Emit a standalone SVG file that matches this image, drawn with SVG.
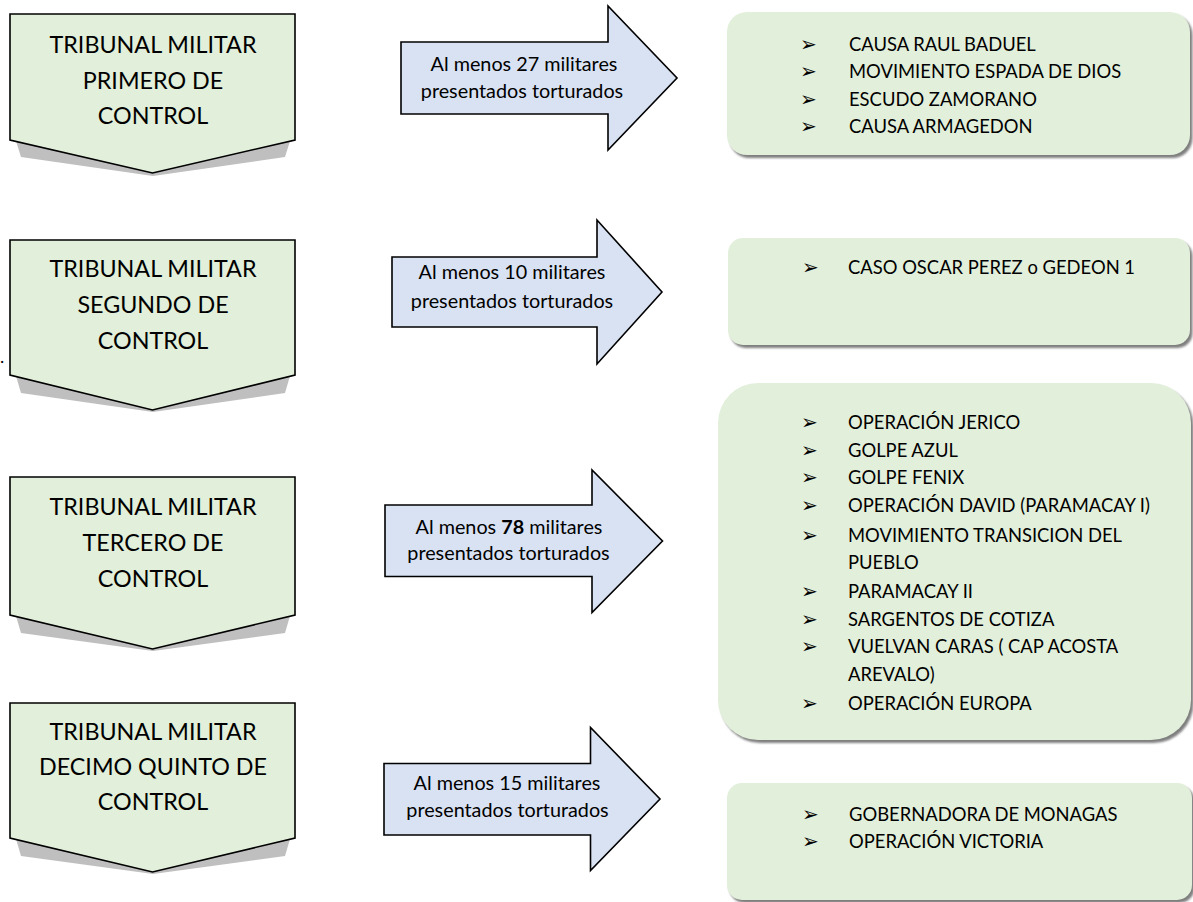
<svg xmlns="http://www.w3.org/2000/svg" width="1193" height="902" viewBox="0 0 1193 902">
<defs>
<style>
.chev{fill:#e2efda;stroke:#000;stroke-width:1.6;stroke-linejoin:miter}
.chsh{fill:#bfbfbf}
.arr{fill:#d9e2f3;stroke:#000;stroke-width:1.6;stroke-linejoin:miter}
.box{fill:#e2efda}
.boxsh{fill:#7f7f7f}
.ct{font-family:Lato,"Liberation Sans",sans-serif;font-size:23.3px;fill:#000;text-anchor:middle}
.at{font-family:Lato,"Liberation Sans",sans-serif;font-size:19.8px;fill:#000;text-anchor:middle}
.lt{font-family:Lato,"Liberation Sans",sans-serif;font-size:18.4px;fill:#000}
.bl{font-family:"DejaVu Sans",sans-serif;font-size:20px;fill:#000}
</style>
<filter id="blur" x="-5%" y="-5%" width="110%" height="110%"><feGaussianBlur stdDeviation="1"/></filter>
</defs>
<rect width="1193" height="902" fill="#fff"/>
<text x="0" y="363" class="ct" style="text-anchor:start;font-size:18px">.</text>

<g id="tribunal1">
<polygon class="chsh" points="16,141 21,157 153,176 285,157 290,141"/>
<path class="chev" d="M10,14 H295 V140 L152.5,173 L10,140 Z"/>
<text class="ct" x="153" y="53">TRIBUNAL MILITAR</text>
<text class="ct" x="153" y="88.5">PRIMERO DE</text>
<text class="ct" x="153" y="123.5">CONTROL</text>
</g>
<g id="tribunal2">
<polygon class="chsh" points="16,376 21,393 153,412 285,393 290,376"/>
<path class="chev" d="M10,240 H295 V375 L152.5,410 L10,375 Z"/>
<text class="ct" x="153" y="276.7">TRIBUNAL MILITAR</text>
<text class="ct" x="153" y="313">SEGUNDO DE</text>
<text class="ct" x="153" y="348.6">CONTROL</text>
</g>
<g id="tribunal3">
<polygon class="chsh" points="16,616 21,633 153,651 285,633 290,616"/>
<path class="chev" d="M10,477 H295 V615 L152.5,649 L10,615 Z"/>
<text class="ct" x="153" y="515">TRIBUNAL MILITAR</text>
<text class="ct" x="153" y="551">TERCERO DE</text>
<text class="ct" x="153" y="586.7">CONTROL</text>
</g>
<g id="tribunal4">
<polygon class="chsh" points="16,839 21,856 153,874 285,856 290,839"/>
<path class="chev" d="M10,703 H295 V838 L152.5,872 L10,838 Z"/>
<text class="ct" x="153" y="740">TRIBUNAL MILITAR</text>
<text class="ct" x="153" y="775">DECIMO QUINTO DE</text>
<text class="ct" x="153" y="810">CONTROL</text>
</g>

<g id="connectors">
<g id="arrow1">
<path class="arr" d="M401,42 H608 V6 L677,78 L608,150 V114 H401 Z"/>
<text class="at" x="524" y="71">Al menos 27 militares</text>
<text class="at" x="522" y="98">presentados torturados</text>
</g>
<g id="arrow2">
<path class="arr" d="M392,257 H597 V220 L662,292 L597,364 V327 H392 Z"/>
<text class="at" x="512" y="279">Al menos 10 militares</text>
<text class="at" x="512" y="308">presentados torturados</text>
</g>
<g id="arrow3">
<path class="arr" d="M385,505 H592 V470 L662.5,541 L592,612.5 V576.5 H385 Z"/>
<text class="at" x="509" y="533.5"><tspan>Al menos </tspan><tspan font-weight="bold">78</tspan><tspan> militares</tspan></text>
<text class="at" x="508.5" y="560">presentados torturados</text>
</g>
<g id="arrow4">
<path class="arr" d="M384,763.5 H590.5 V727.5 L660,799 L590.5,870.5 V835 H384 Z"/>
<text class="at" x="507" y="790">Al menos 15 militares</text>
<text class="at" x="507.5" y="817">presentados torturados</text>
</g>
</g>

<g id="casos1">
<rect class="boxsh" x="729.5" y="15" width="463" height="143" rx="20" filter="url(#blur)"/>
<rect class="box" x="727" y="12" width="463" height="143" rx="20"/>
<text class="bl" x="800" y="51">➢</text><text class="lt" x="849" y="51">CAUSA RAUL BADUEL</text>
<text class="bl" x="800" y="78.3">➢</text><text class="lt" x="849" y="78.3">MOVIMIENTO ESPADA DE DIOS</text>
<text class="bl" x="800" y="106">➢</text><text class="lt" x="849" y="106">ESCUDO ZAMORANO</text>
<text class="bl" x="800" y="133.3">➢</text><text class="lt" x="849" y="133.3">CAUSA ARMAGEDON</text>
</g>
<g id="casos2">
<rect class="boxsh" x="730.5" y="241" width="462" height="107" rx="15" filter="url(#blur)"/>
<rect class="box" x="728" y="238" width="462" height="107" rx="15"/>
<text class="bl" x="802" y="274.3">➢</text><text class="lt" x="848" y="274.3">CASO OSCAR PEREZ o GEDEON 1</text>
</g>
<g id="casos3">
<rect class="boxsh" x="720.5" y="386" width="473" height="357" rx="40" filter="url(#blur)"/>
<rect class="box" x="718" y="383" width="473" height="357" rx="40"/>
<text class="bl" x="801" y="428.5">➢</text><text class="lt" x="848" y="428.5">OPERACIÓN JERICO</text>
<text class="bl" x="801" y="457.3">➢</text><text class="lt" x="848" y="457.3">GOLPE AZUL</text>
<text class="bl" x="801" y="484.3">➢</text><text class="lt" x="848" y="484.3">GOLPE FENIX</text>
<text class="bl" x="801" y="512.3">➢</text><text class="lt" x="848" y="512.3">OPERACIÓN DAVID (PARAMACAY I)</text>
<text class="bl" x="801" y="541.7">➢</text><text class="lt" x="848" y="541.7">MOVIMIENTO TRANSICION DEL</text>
<text class="lt" x="848" y="569.3">PUEBLO</text>
<text class="bl" x="801" y="597.7">➢</text><text class="lt" x="848" y="597.7">PARAMACAY II</text>
<text class="bl" x="801" y="625.7">➢</text><text class="lt" x="848" y="625.7">SARGENTOS DE COTIZA</text>
<text class="bl" x="801" y="653.3">➢</text><text class="lt" x="848" y="653.3">VUELVAN CARAS ( CAP ACOSTA</text>
<text class="lt" x="848" y="681">AREVALO)</text>
<text class="bl" x="801" y="710">➢</text><text class="lt" x="848" y="710">OPERACIÓN EUROPA</text>
</g>
<g id="casos4">
<rect class="boxsh" x="729.5" y="786" width="465" height="117" rx="15" filter="url(#blur)"/>
<rect class="box" x="727" y="783" width="465" height="117" rx="15"/>
<text class="bl" x="802" y="820.7">➢</text><text class="lt" x="849" y="820.7">GOBERNADORA DE MONAGAS</text>
<text class="bl" x="802" y="848">➢</text><text class="lt" x="849" y="848">OPERACIÓN VICTORIA</text>
</g>
</svg>
